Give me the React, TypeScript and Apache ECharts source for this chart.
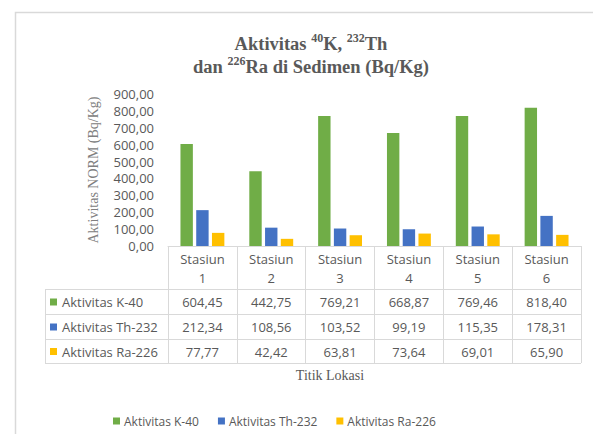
import React, { useEffect, useRef } from "react";
import * as echarts from "echarts";

const categories = ["Stasiun 1", "Stasiun 2", "Stasiun 3", "Stasiun 4", "Stasiun 5", "Stasiun 6"];
const seriesNames = ["Aktivitas K-40", "Aktivitas Th-232", "Aktivitas Ra-226"];
const k40 = [604.45, 442.75, 769.21, 668.87, 769.46, 818.4];
const th232 = [212.34, 108.56, 103.52, 99.19, 115.35, 178.31];
const ra226 = [77.77, 42.42, 63.81, 73.64, 69.01, 65.9];
const colors = ["#70ad47", "#4472c4", "#ffc000"];
const yMin = 0;
const yMax = 900;
const yInterval = 100;

const W = 593;
const H = 434;
const GL = 168;
const GR = 581;
const GT = 94;
const GB = 246;
const TABLE_LEFT = 45;
const ROW_LINES = [289, 314, 339, 363];
const TXT = "#595959";
const LINE = "#d9d9d9";
const SANS = "'Open Sans', 'Liberation Sans', sans-serif";
const SERIF = "'Liberation Serif', 'DejaVu Serif', serif";

const fmt = (v: number) => v.toFixed(2).replace(".", ",");

export default function App() {
  const ref = useRef<HTMLDivElement>(null);
  useEffect(() => {
    if (!ref.current) return;
    const chart = echarts.init(ref.current, null, { renderer: "svg" });
    const allSeries = [k40, th232, ra226];
    const colW = (GR - GL) / categories.length;
    const graphic: any[] = [];
    graphic.push({
      type: "rect",
      shape: { x: 15.5, y: 12.5, width: 700, height: 600 },
      style: { fill: "none", stroke: LINE, lineWidth: 1.5 },
      silent: true,
    });
    ROW_LINES.forEach((y) => {
      graphic.push({
        type: "line",
        shape: { x1: TABLE_LEFT, y1: y + 0.5, x2: GR, y2: y + 0.5 },
        style: { stroke: LINE, lineWidth: 1 },
      });
    });
    graphic.push({
      type: "line",
      shape: { x1: TABLE_LEFT + 0.5, y1: ROW_LINES[0], x2: TABLE_LEFT + 0.5, y2: ROW_LINES[ROW_LINES.length - 1] },
      style: { stroke: LINE, lineWidth: 1 },
    });
    seriesNames.forEach((name, i) => {
      const cy = (ROW_LINES[i] + ROW_LINES[i + 1]) / 2 + 0.5;
      graphic.push({
        type: "rect",
        shape: { x: 50, y: cy - 3.5, width: 7, height: 7 },
        style: { fill: colors[i] },
      });
      graphic.push({
        type: "text",
        x: 62,
        y: cy,
        style: { text: name, fill: TXT, font: `13px ${SANS}`, textVerticalAlign: "middle" },
      });
      allSeries[i].forEach((v, j) => {
        graphic.push({
          type: "text",
          x: GL + colW * (j + 0.5),
          y: cy,
          style: { text: fmt(v), fill: TXT, font: `13px ${SANS}`, textAlign: "center", textVerticalAlign: "middle" },
        });
      });
    });
    graphic.push({
      type: "text",
      x: 330,
      y: 375,
      style: { text: "Titik Lokasi", fill: TXT, font: `14px ${SERIF}`, textAlign: "center", textVerticalAlign: "middle" },
    });

    const bStyle = { fontSize: 18.5, fontWeight: "bold", fontFamily: SERIF, color: TXT, lineHeight: 23 };
    const sStyle = { fontSize: 12, fontWeight: "bold", fontFamily: SERIF, color: TXT, lineHeight: 18, verticalAlign: "top" };

    chart.setOption({
      animation: false,
      title: {
        text: "{b|Aktivitas }{s|40}{b|K, }{s|232}{b|Th}\n{b|dan }{s|226}{b|Ra di Sedimen (Bq/Kg)}",
        left: 306,
        top: 27,
        textAlign: "center",
        textStyle: { rich: { b: bStyle, s: sStyle }, lineHeight: 23 },
      },
      legend: {
        data: seriesNames,
        left: 113,
        top: 415,
        padding: 0,
        icon: "rect",
        itemWidth: 7,
        itemHeight: 7,
        itemGap: 19,
        textStyle: { color: TXT, fontSize: 12, fontFamily: SANS, padding: [0, 0, 0, -1] },
      },
      grid: { left: GL, right: W - GR, top: GT, bottom: H - GB, containLabel: false },
      xAxis: {
        type: "category",
        data: categories,
        axisLine: { show: true, lineStyle: { color: LINE, width: 1 } },
        axisTick: { show: true, length: ROW_LINES[ROW_LINES.length - 1] - GB, interval: 0, lineStyle: { color: LINE } },
        axisLabel: {
          interval: 0,
          margin: 3,
          color: TXT,
          fontSize: 13,
          lineHeight: 19,
          fontFamily: SANS,
          formatter: (v: string) => v.replace(" ", "\n"),
        },
      },
      yAxis: {
        type: "value",
        min: yMin,
        max: yMax,
        interval: yInterval,
        splitLine: { show: false },
        axisLine: { show: false },
        axisTick: { show: false },
        axisLabel: { color: TXT, fontSize: 13, fontFamily: SANS, margin: 14, formatter: (v: number) => fmt(v) },
        name: "Aktivitas NORM (Bq/Kg)",
        nameLocation: "middle",
        nameGap: 68,
        nameTextStyle: { color: "#808080", fontSize: 14, fontFamily: SERIF },
      },
      series: allSeries.map((d, i) => ({
        name: seriesNames[i],
        type: "bar",
        data: d,
        barWidth: 12.4,
        barGap: "27%",
        itemStyle: { color: colors[i] },
      })),
      graphic,
    });
    return () => chart.dispose();
  }, []);
  return <div ref={ref} style={{ position: "fixed", left: 0, top: 0, width: W, height: H, background: "#fff" }} />;
}
